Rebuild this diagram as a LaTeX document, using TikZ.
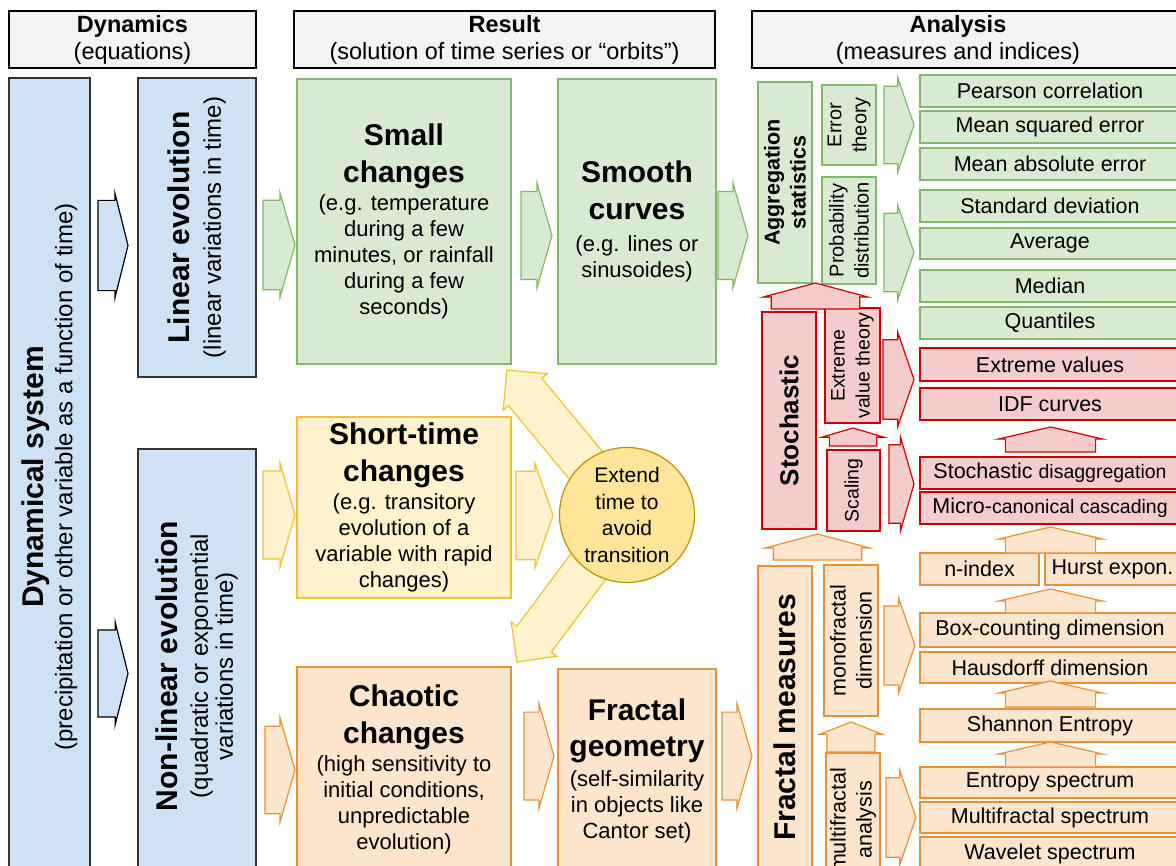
\documentclass[tikz,border=0pt]{standalone}
\usepackage{fontspec}
\setmainfont{Liberation Sans}
\usetikzlibrary{shapes}
\usetikzlibrary{shapes.arrows}
\usetikzlibrary{positioning}
\usetikzlibrary{calc}
\definecolor{hdrfill}{HTML}{F3F3F3}
\definecolor{bluefill}{HTML}{CFE2F3}
\definecolor{blueline}{HTML}{333333}
\definecolor{greenfill}{HTML}{D9EAD3}
\definecolor{greenline}{HTML}{82B86A}
\definecolor{yellowfill}{HTML}{FFF2CC}
\definecolor{yellowline}{HTML}{F1C232}
\definecolor{circfill}{HTML}{FFE599}
\definecolor{circline}{HTML}{BF9000}
\definecolor{orangefill}{HTML}{FCE5CD}
\definecolor{orangeline}{HTML}{E69138}
\definecolor{redfill}{HTML}{F4CCCC}
\definecolor{redline}{HTML}{CC0000}
\newcommand{\bigttl}[1]{{\fontsize{30}{30}\selectfont\bfseries #1}}
\newcommand{\smfnt}[1]{{\fontsize{19.5}{26}\selectfont #1}}
\tikzset{
    wh/.style 2 args = {minimum width=#1, minimum height=#2},
    box/.style = {rectangle, line width=1.2pt, align=center, inner sep=0pt, outer sep=0pt},
    hdrbox/.style = {box, draw=black, fill=hdrfill, font=\fontsize{23.5}{27}\selectfont},
    hdrlbl/.style = {align=center, inner sep=0pt, font=\fontsize{23.5}{27}\selectfont},
    bluebox/.style = {box, draw=blueline, fill=bluefill},
    greenbox/.style = {box, draw=greenline, fill=greenfill},
    yellowbox/.style = {box, draw=yellowline, fill=yellowfill},
    orangebox/.style = {box, draw=orangeline, fill=orangefill},
    redbox/.style = {box, draw=redline, fill=redfill},
    bodyfont/.style = {font=\fontsize{22}{26}\selectfont},
    itemfont/.style = {font=\fontsize{21.5}{26}\selectfont},
    circnode/.style = {circle, line width=1.2pt, draw=circline, fill=circfill, minimum size=135pt, inner sep=0pt, align=center, font=\fontsize{21}{26.5}\selectfont},
    shaft/.style = {inner ysep=#1},  % half width of the shaft
    blk/.style = {single arrow, line width=1.2pt, inner xsep=0pt, shaft=27pt, outer sep=0pt, anchor=tail, single arrow tip angle=148, single arrow head extend=5pt, minimum width=105pt, minimum height=30pt},
    arrb/.style = {blk, draw=black, fill=bluefill},
    arrg/.style = {blk, draw=greenline, fill=greenfill},
    arry/.style = {blk, draw=yellowline, fill=yellowfill},
    arro/.style = {blk, draw=orangeline, fill=orangefill},
    arrr/.style = {blk, draw=redline, fill=redfill},
    uparrow/.style = {rotate=90, anchor=tip, shaft=30pt, minimum height=26pt, single arrow tip angle=154}, % list up arrows
    upnarrow/.style = {rotate=90, anchor=tip, minimum width=62pt, shaft=16pt, single arrow tip angle=142}, % small up arrows
    diag/.style = {arry, anchor=tip, minimum width=57pt, shaft=15pt, single arrow tip angle=90}
}
\begin{document}
\begin{tikzpicture}[x=1pt,y=-1pt]
\useasboundingbox (0,0) rectangle (1176,866);
\clip (0,0) rectangle (1176,866);
%
% headers
\node[hdrbox, wh={247}{57}] at (132.5,39.5) (hdyn) {\textbf{Dynamics}\\(equations)};
\node[hdrbox, wh={421}{57}] at (504.5,39.5) (hres) {\textbf{Result}\\(solution of time series or “orbits”)};
\node[hdrbox, wh={440}{57}, label={[hdrlbl, xshift=-14pt]center:{\textbf{Analysis}\\(measures and indices)}}] at (972,39.5) (hana) {};
%
% dynamics
\node[bluebox, rotate=90, wh={798}{81}, font=\fontsize{24}{29}\selectfont] at (49.5,477) (dyn) {\bigttl{Dynamical system}\\(precipitation or other variable as a function of time)};
\node[bluebox, rotate=90, wh={299}{118}, font=\fontsize{24}{31}\selectfont] at (197,227.5) (lin) {\bigttl{Linear evolution}\\(linear variations in time)};
\node[bluebox, rotate=90, wh={434}{118}, font=\fontsize{24}{25}\selectfont] at (197,666) (nonlin) {\bigttl{Non-linear evolution}\\[5pt](quadratic or exponential\\variations in time)};
\node[arrb, shaft=30pt, single arrow tip angle=152] at (98,245.5) (a1) {};
\node[arrb, shaft=26.5pt, minimum width=103pt, single arrow tip angle=152] at (98,673.5) (a2) {};
%
% results
\node[greenbox, bodyfont, wh={214}{285}] at (404,221.5) (small) {\bigttl{Small}\\[11pt]\bigttl{changes}\\[2pt](e.g. temperature\\during a few\\minutes, or rainfall\\during a few\\seconds)};
\node[greenbox, bodyfont, wh={158}{285}] at (637,221.5) (smooth) {\bigttl{Smooth}\\[11pt]\bigttl{curves}\\[6pt](e.g. lines or\\sinusoides)};
\node[yellowbox, bodyfont, wh={214}{181}] at (404,507.5) (short) {\bigttl{Short-time}\\[11pt]\bigttl{changes}\\[2pt](e.g. transitory\\evolution of a\\variable with rapid\\changes)};
\node[orangebox, bodyfont, wh={214}{204}] at (404,769) (chaos) {\bigttl{Chaotic}\\[11pt]\bigttl{changes}\\[2pt](high sensitivity to\\initial conditions,\\unpredictable\\evolution)};
\node[orangebox, bodyfont, wh={158}{204}] at (637,771) (fgeom) {\bigttl{Fractal}\\[10pt]\bigttl{geometry}\\[4pt](self-similarity\\in objects like\\Cantor set)};
\node[arrg, minimum height=32pt, shaft=28pt] at (263,245) (a3) {};
\node[arry, minimum height=32pt, minimum width=104pt] at (263,515) (a4) {};
\node[arro, minimum width=104pt, shaft=26pt] at (265,770) (a5) {};
\node[arrg, minimum height=31pt, shaft=25.5pt] at (521,235.5) (a6) {};
\node[arrg, shaft=25.5pt] at (718,235.5) (a7) {};
\node[arry, minimum height=37pt, shaft=26.5pt, single arrow tip angle=142] at (516,515.5) (a8) {};
\node[arro, minimum width=104pt, shaft=26.5pt] at (524,756) (a9) {};
\node[arro, minimum width=104pt, shaft=26.5pt] at (722,756) (a10) {};
%
% extend time
\coordinate (extc) at (627,515);
\coordinate (tipA) at (507,370);
\coordinate (tipB) at (517,662);
\node[diag, minimum height=188pt, rotate=129.6] at (tipA) (d1) {};
\node[diag, minimum height=183.6pt, rotate=233.2] at (tipB) (d2) {};
\node[circnode] at (extc) (ext) {Extend\\time to\\avoid\\transition};
%
% analysis: aggregation statistics
\node[greenbox, rotate=90, wh={201}{54}, font=\fontsize{21.5}{26}\selectfont\bfseries] at (785,182.5) (agg) {Aggregation\\statistics};
\node[greenbox, rotate=90, wh={80}{54}, font=\fontsize{20}{25}\selectfont] at (849,125) (err) {Error\\theory};
\node[greenbox, rotate=90, wh={107}{54}, font=\fontsize{20}{25}\selectfont] at (849,230.5) (prob) {Probability\\distribution};
\node[greenbox, itemfont, wh={260}{32}] at (1050,91) (pear) {Pearson correlation};
\node[greenbox, itemfont, wh={260}{32}] at (1050,127) (mse) {Mean squared error};
\node[greenbox, itemfont, wh={260}{32}] at (1050,164) (mae) {Mean absolute error};
\node[greenbox, itemfont, wh={260}{32}] at (1050,206) (std) {Standard deviation};
\node[greenbox, itemfont, wh={260}{31}] at (1050,243.5) (avg) {Average};
\node[greenbox, itemfont, wh={260}{32}] at (1050,286) (med) {Median};
\node[greenbox, itemfont, wh={260}{32}] at (1050,323) (qua) {Quantiles};
\node[arrg, minimum width=94pt, shaft=23pt, single arrow tip angle=142] at (884,125) (a11) {};
\node[arrg, minimum width=95pt, shaft=23pt, single arrow tip angle=142] at (884,252.5) (a12) {};
%
% analysis: stochastic
\node[redbox, rotate=90, wh={217}{54}, font=\fontsize{26}{30}\selectfont\bfseries] at (789,420.5) (stoch) {Stochastic};
\node[redbox, rotate=90, wh={115}{55}, font=\fontsize{19.5}{25}\selectfont] at (852.5,365.5) (evt) {Extreme\\value theory};
\node[redbox, rotate=90, wh={81}{53}, font=\fontsize{19.5}{25}\selectfont] at (853.5,490.5) (scal) {Scaling};
\node[redbox, itemfont, wh={260}{33}] at (1050,364.5) (extv) {Extreme values};
\node[redbox, itemfont, wh={260}{32}] at (1050,404) (idf) {IDF curves};
\node[redbox, itemfont, wh={260}{32}] at (1050,473) (sdis) {Stochastic \smfnt{disaggregation}};
\node[redbox, itemfont, wh={260}{32}] at (1050,508) (mcc) {Micro-\smfnt{canonical cascading}};
\node[arrr, minimum width=95pt, shaft=25pt, single arrow tip angle=142, minimum height=31pt] at (883,379.5) (a13) {};
\node[arrr, minimum width=94pt, shaft=25pt, minimum height=25pt] at (889,484) (a14) {};
\node[arrr, uparrow, minimum width=105pt, shaft=26pt, single arrow tip angle=150] at (815.5,283) (a15) {};
\node[arrr, upnarrow, minimum height=18pt, shaft=15.5pt, single arrow tip angle=147] at (853,428) (a16) {};
\node[arrr, uparrow, minimum height=25pt] at (1050.5,427) (a17) {};
%
% analysis: fractal measures
\node[orangebox, rotate=90, wh={303}{54}, font=\fontsize{30}{30}\selectfont\bfseries] at (785,717.5) (frac) {Fractal measures};
\node[orangebox, rotate=90, wh={151}{54}, font=\fontsize{21.5}{26}\selectfont] at (851,640.5) (mono) {monofractal\\dimension};
\node[orangebox, rotate=90, wh={134}{54}, font=\fontsize{21.5}{26}\selectfont] at (853,820) (multi) {multifractal\\analysis};
\node[orangebox, itemfont, wh={119}{32}] at (979.5,569) (nidx) {n-index};
\node[orangebox, itemfont, wh={135}{32}] at (1112.5,569) (hurst) {Hurst expon.};
\node[orangebox, itemfont, wh={260}{34}] at (1050,630) (boxc) {Box-counting dimension};
\node[orangebox, itemfont, wh={260}{31}] at (1050,667.5) (haus) {Hausdorff dimension};
\node[orangebox, itemfont, wh={260}{33}] at (1050,725.5) (shan) {Shannon Entropy};
\node[orangebox, itemfont, wh={260}{31}] at (1050,782.5) (ents) {Entropy spectrum};
\node[orangebox, itemfont, wh={260}{31}] at (1050,817.5) (mfs) {Multifractal spectrum};
\node[orangebox, itemfont, wh={260}{33}] at (1050,853.5) (wav) {Wavelet spectrum};
\node[arro, minimum width=95pt, shaft=24pt, single arrow tip angle=142, minimum height=31pt] at (884,645.5) (a18) {};
\node[arro, minimum width=95pt, shaft=25pt, single arrow tip angle=142] at (886,817.5) (a19) {};
\node[arro, uparrow, minimum width=105pt, shaft=26.5pt, single arrow tip angle=150] at (817.5,534) (a20) {};
\node[arro, upnarrow, minimum height=30pt, shaft=16.5pt, single arrow tip angle=137] at (851,722) (a21) {};
\node[arro, uparrow] at (1050.5,527) (a22) {};
\node[arro, uparrow, minimum height=24pt] at (1050.5,589) (a23) {};
\node[arro, uparrow] at (1050.5,681) (a24) {};
\node[arro, uparrow, minimum height=25pt] at (1050.5,742) (a25) {};

\end{tikzpicture}
\end{document}
